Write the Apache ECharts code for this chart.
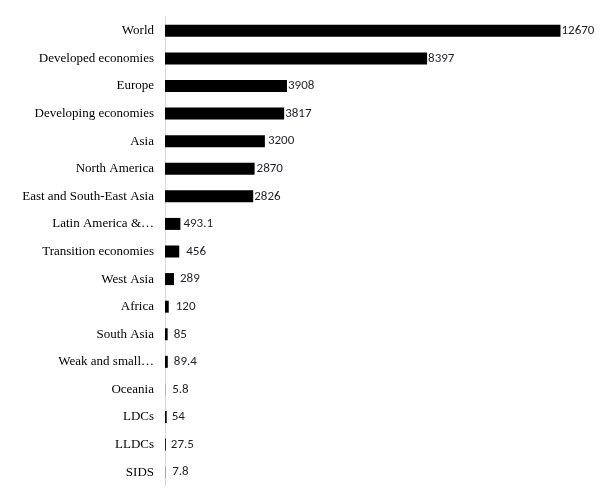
<!DOCTYPE html>
<html>
<head>
<meta charset="utf-8">
<script src="https://cdn.jsdelivr.net/npm/echarts@6/dist/echarts.min.js"></script>
<style>
html,body{margin:0;padding:0;background:#fff;}
#chart{width:605px;height:493px;}
</style>
</head>
<body>
<div id="chart"></div>
<script>
var categories = ["World","Developed economies","Europe","Developing economies","Asia","North America","East and South-East Asia","Latin America &\u2026","Transition economies","West Asia","Africa","South Asia","Weak and small\u2026","Oceania","LDCs","LLDCs","SIDS"];
var values = [12670,8397,3908,3817,3200,2870,2826,493.1,456,289,120,85,89.4,5.8,54,27.5,7.8];

// label gaps (px) as placed in the reference
var labelGaps = [1,1,1,1,3,2,1,3,7,6,7,6,6,7,5,5,7];

var seriesData = values.map(function (v, i) {
  return {value: v, label: {distance: labelGaps[i]}};
});

var chart = echarts.init(document.getElementById('chart'));
chart.setOption({
  animation: false,
  grid: {left: 165, right: 3, top: 17, bottom: 7, containLabel: false},
  xAxis: {
    type: 'value', min: 0, max: 14000, show: false
  },
  yAxis: {
    type: 'category', inverse: true, data: categories,
    axisLine: {show: true, lineStyle: {color: '#d9d9d9', width: 1}},
    axisTick: {show: false},
    axisLabel: {fontFamily: 'Liberation Serif', fontSize: 13, color: '#000', margin: 11}
  },
  series: [{
    type: 'bar', data: seriesData, barWidth: 12,
    itemStyle: {color: '#000'},
    label: {show: true, position: 'right', fontFamily: 'Carlito, Lato, Liberation Sans', fontSize: 13, color: '#1f1f26'}
  }]
});
</script>
</body>
</html>
